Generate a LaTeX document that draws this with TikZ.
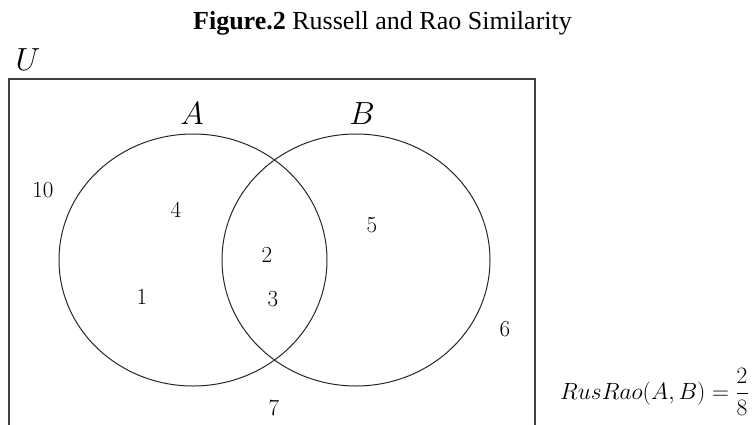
\RequirePackage{fix-cm}
\documentclass[tikz,border=0pt]{standalone}
\usepackage{amsmath}
\usepackage[no-math]{fontspec}
\setmainfont{Liberation Serif}
\usetikzlibrary{shapes.geometric,positioning}

\begin{document}
\begin{tikzpicture}[x=1pt,y=-1pt,every node/.style={inner sep=0pt},
  setcirc/.style={draw=black!85,line width=1pt,ellipse,minimum width=268pt,minimum height=252pt},
  setlbl/.style={font=\fontsize{32}{36}\selectfont},
  cnt/.style={font=\fontsize{23}{27}\selectfont}]
  \useasboundingbox (0,0) rectangle (756,424);
  \clip (0,0) rectangle (756,424);
  % title
  \node[anchor=base,font=\fontsize{26}{30}\selectfont] (title) at (382.5,29) {\textbf{Figure.2} Russell and Rao Similarity};
  % universe U
  \draw[black!75,line width=1.3pt] (9,440) -- (9,79) -- (535,79) -- (535,440);
  \node[setlbl] (labU) at (28,60) {$U$};
  % sets A and B
  \node[setcirc] (setA) at (193,260) {};
  \node[setcirc] (setB) at (356,260) {};
  \node[setlbl] (labA) at (192,114) {$A$};
  \node[setlbl] (labB) at (362,114) {$B$};
  % counts in each region
  \foreach \n/\x/\y in {10/43/190.5, 4/176/210, 1/142/297, 2/267/255.5, 3/273/299, 5/372/225, 6/505/329.5, 7/274/408}
    \node[cnt] (n\n) at (\x,\y) {$\n$};
  % similarity
  \node[anchor=base west,font=\fontsize{23.5}{27}\selectfont] (rusrao) at (560,399) {$RusRao(A,B)=\dfrac{2}{8}$};
\end{tikzpicture}
\end{document}
